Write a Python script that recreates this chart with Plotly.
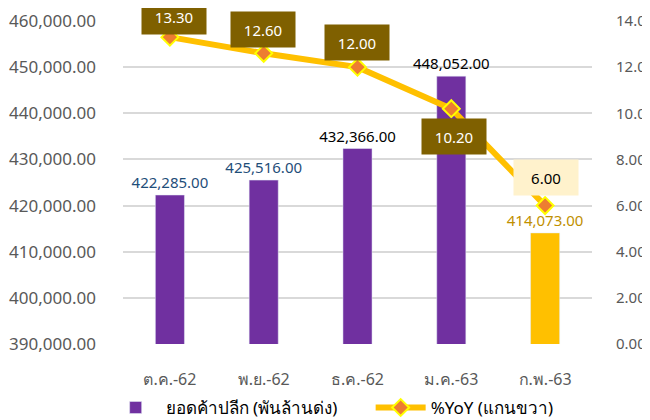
import plotly.graph_objects as go

months = ["ต.ค.-62", "พ.ย.-62", "ธ.ค.-62", "ม.ค.-63", "ก.พ.-63"]
retail_sales = [422285.00, 425516.00, 432366.00, 448052.00, 414073.00]
yoy = [13.30, 12.60, 12.00, 10.20, 6.00]
left_ticks = [390000, 400000, 410000, 420000, 430000, 440000, 450000, 460000]
right_ticks = [0, 2, 4, 6, 8, 10, 12, 14]

bar_name = "ยอดค้าปลีก (พันล้านด่ง)"
line_name = "%YoY (แกนขวา)"

FONT = "Noto Sans, DejaVu Sans, sans-serif"
bar_colors = ["#7030A0", "#7030A0", "#7030A0", "#7030A0", "#FFC000"]
bar_label_colors = ["#1F4E79", "#1F4E79", "#000000", "#000000", "#BF9000"]
box_bg = ["#7F6000", "#7F6000", "#7F6000", "#7F6000", "#FFF2CC"]
box_fg = ["#FFFFFF", "#FFFFFF", "#FFFFFF", "#FFFFFF", "#000000"]
box_yshift = [21, 24, 25, -28, 28]
box_xshift = [4, -1, -1, 3, 1]

fig = go.Figure()
fig.add_trace(go.Bar(
    x=months, y=retail_sales, name=bar_name,
    marker=dict(color=bar_colors),
    width=0.31,
    text=[f"{v:,.2f}" for v in retail_sales],
    textposition="outside",
    constraintext="none",
    textfont=dict(family=FONT, size=15, color=bar_label_colors),
    cliponaxis=False,
))
fig.add_trace(go.Scatter(
    x=months, y=yoy, name=line_name, yaxis="y2",
    mode="lines+markers",
    line=dict(color="#FFC000", width=6),
    marker=dict(symbol="diamond", size=13, color="#ED7D31",
                line=dict(color="#FFFF00", width=2)),
    cliponaxis=False,
))

for i, (m, v) in enumerate(zip(months, yoy)):
    fig.add_annotation(
        x=m, y=v, xref="x", yref="y2", text=f"{v:.2f}",
        showarrow=False, yshift=box_yshift[i], xshift=box_xshift[i],
        bgcolor=box_bg[i], borderpad=8, width=48, height=19,
        font=dict(family=FONT, size=15, color=box_fg[i]),
    )

fig.update_layout(
    width=642, height=412,
    margin=dict(l=115, r=58, t=13, b=76, autoexpand=False),
    plot_bgcolor="white", paper_bgcolor="white",
    font=dict(family=FONT, size=17, color="#595959"),
    showlegend=True,
    legend=dict(orientation="h", x=-0.037, xanchor="left", y=-0.198, yanchor="middle",
                font=dict(family=FONT, size=17, color="#000000"),
                itemwidth=50, entrywidth=200, entrywidthmode="pixels",
                traceorder="normal"),
    xaxis=dict(showgrid=False, ticks="", ticklabelstandoff=24, automargin=False,
               tickfont=dict(family=FONT, size=16, color="#595959")),
    yaxis=dict(range=[390000, 460000], tickvals=left_ticks, automargin=False,
               tickformat=",.2f", showgrid=True, gridcolor="#D9D9D9", gridwidth=1.5,
               zeroline=False, ticklabelstandoff=26,
               tickfont=dict(family=FONT, size=17, color="#595959")),
    yaxis2=dict(range=[0, 14], tickvals=right_ticks, tickformat=".2f", automargin=False,
                overlaying="y", side="right", showgrid=False, zeroline=False,
                ticklabelstandoff=23,
                tickfont=dict(family=FONT, size=15, color="#595959")),
)

fig.write_html("out.html")
